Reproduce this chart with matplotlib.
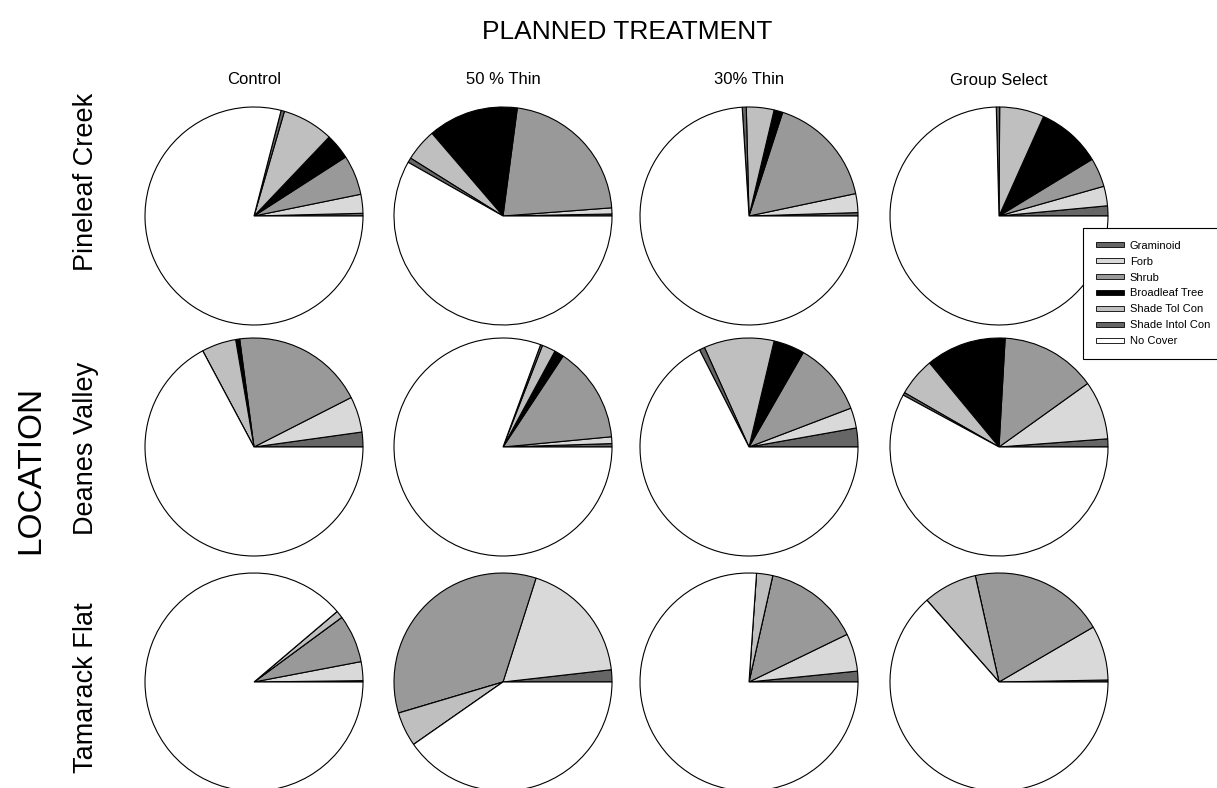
import matplotlib
matplotlib.use("Agg")
from matplotlib import pyplot as plt
from matplotlib.patches import Patch

plt.rcParams['font.family'] = ['Liberation Sans', 'DejaVu Sans']

cover_types = ["Graminoid", "Forb", "Shrub", "Broadleaf Tree",
               "Shade Tol Con", "Shade Intol Con", "No Cover"]
cover_colors = ["#666666", "#d9d9d9", "#999999", "#000000",
                "#bfbfbf", "#666666", "#ffffff"]

treatments = ["Control", "50 % Thin", "30% Thin", "Group Select"]
locations = ["Pineleaf Creek", "Deanes Valley", "Tamarack Flat"]

# percent cover, same order as cover_types
pineleaf = [
    [0.4, 2.8, 5.9, 3.8, 7.6, 0.5, 79.0],
    [0.3, 0.9, 21.7, 13.4, 4.8, 0.7, 58.2],
    [0.5, 2.8, 16.7, 1.3, 4.1, 0.6, 74.0],
    [1.5, 2.9, 4.3, 9.6, 6.6, 0.5, 74.6],
]
deanes = [
    [2.2, 5.3, 19.6, 0.6, 5.1, 0.0, 67.2],
    [0.5, 1.0, 14.2, 1.4, 2.0, 0.3, 80.6],
    [2.8, 3.0, 10.9, 4.6, 10.4, 0.8, 67.5],
    [1.2, 8.7, 14.2, 11.9, 5.7, 0.4, 57.9],
]
tamarack = [
    [0.2, 2.8, 7.1, 0.0, 1.1, 0.0, 88.8],
    [1.8, 18.3, 34.5, 0.0, 5.1, 0.0, 40.3],
    [1.6, 5.6, 14.3, 0.0, 2.4, 0.0, 76.1],
    [0.3, 8.1, 20.1, 0.0, 8.0, 0.0, 63.5],
]
cover = [pineleaf, deanes, tamarack]

W, H = 1217, 788
fig = plt.figure(figsize=(W / 100, H / 100), dpi=100)

col_x = [254, 503, 749, 999]
row_y = [216, 447, 682]
label_y = [182, 448, 688]
r = 109

for i, row in enumerate(cover):
    for j, vals in enumerate(row):
        cx, cy = col_x[j], row_y[i]
        ax = fig.add_axes([(cx - r) / W, (H - cy - r) / H, 2 * r / W, 2 * r / H])
        ax.pie(vals, colors=cover_colors, startangle=0, counterclock=True,
               wedgeprops=dict(edgecolor="black", linewidth=0.8))
        ax.set_xlim(-1.0, 1.0)
        ax.set_ylim(-1.0, 1.0)
        ax.set_aspect("equal")
        ax.axis("off")

fig.text(627 / W, 1 - 32 / H, "PLANNED TREATMENT", ha="center", va="center", fontsize=19)
for j, name in enumerate(treatments):
    fig.text(col_x[j] / W, 1 - 80 / H, name, ha="center", va="center", fontsize=12)
for i, name in enumerate(locations):
    fig.text(86 / W, 1 - label_y[i] / H, name, ha="center", va="center",
             rotation=90, fontsize=19.5)
fig.text(31 / W, 1 - 470 / H, "LOCATION", ha="center", va="center",
         rotation=90, fontsize=24)

handles = [Patch(facecolor=c, edgecolor="black", linewidth=0.6) for c in cover_colors]
leg = fig.legend(handles, cover_types, loc="upper left",
                 bbox_to_anchor=(1083 / W, 1 - 228 / H), borderaxespad=0,
                 fontsize=8, fancybox=False, framealpha=1, edgecolor="black",
                 handlelength=2.5, handleheight=0.3, handletextpad=0.55,
                 borderpad=1.15, labelspacing=0.53)
leg.get_frame().set_linewidth(0.8)

fig.savefig("out.png", dpi=100)
